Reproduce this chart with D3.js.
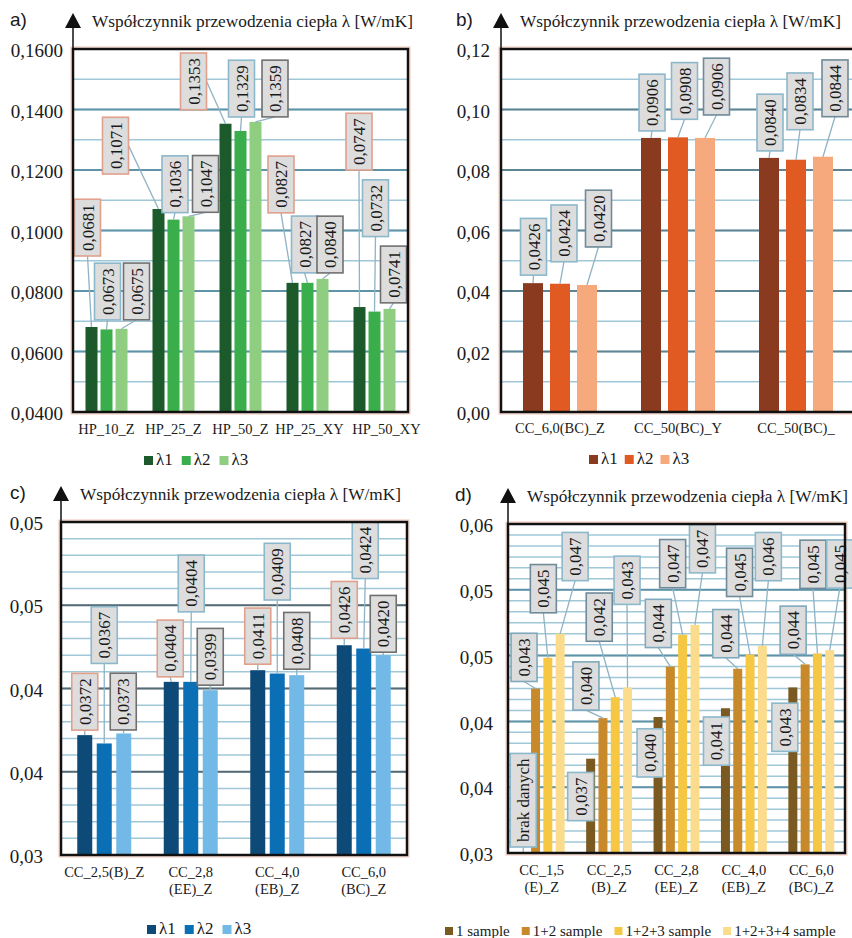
<!DOCTYPE html>
<html>
<head>
<meta charset="utf-8">
<script src="https://cdn.jsdelivr.net/npm/d3@7"></script>
<style>
  body { margin: 0; background: #fff; }
  svg text { font-family: "Liberation Serif", "Times New Roman", serif; fill: #1a1a1a; }
</style>
</head>
<body>
<svg id="chart" width="852" height="938"></svg>
<script>
// ---- data ----
const lambdaSeries = ['λ1', 'λ2', 'λ3'];

// a) HP samples
const hpCats = ['HP_10_Z', 'HP_25_Z', 'HP_50_Z', 'HP_25_XY', 'HP_50_XY'];
const hpL1 = [0.0681, 0.1071, 0.1353, 0.0827, 0.0747];
const hpL2 = [0.0673, 0.1036, 0.1329, 0.0827, 0.0732];
const hpL3 = [0.0675, 0.1047, 0.1359, 0.0840, 0.0741];
const hpTicks = [0.04, 0.06, 0.08, 0.10, 0.12, 0.14, 0.16];
const hpTickLabels = ['0,0400', '0,0600', '0,0800', '0,1000', '0,1200', '0,1400', '0,1600'];

// b) CC BC samples
const bcCats = ['CC_6,0(BC)_Z', 'CC_50(BC)_Y', 'CC_50(BC)_'];
const bcL1 = [0.0426, 0.0906, 0.0840];
const bcL2 = [0.0424, 0.0908, 0.0834];
const bcL3 = [0.0420, 0.0906, 0.0844];
const bcTicks = [0, 0.02, 0.04, 0.06, 0.08, 0.10, 0.12];
const bcTickLabels = ['0,00', '0,02', '0,04', '0,06', '0,08', '0,10', '0,12'];

// c) CC Z samples
const ccCats = ['CC_2,5(B)_Z', 'CC_2,8\n(EE)_Z', 'CC_4,0\n(EB)_Z', 'CC_6,0\n(BC)_Z'];
const ccL1 = [0.0372, 0.0404, 0.0411, 0.0426];
const ccL2 = [0.0367, 0.0404, 0.0409, 0.0424];
const ccL3 = [0.0373, 0.0399, 0.0408, 0.0420];
const ccTicks = [0.03, 0.035, 0.04, 0.045, 0.05];
const ccTickLabels = ['0,03', '0,04', '0,04', '0,05', '0,05'];

// d) cumulative samples
const smpSeries = ['1 sample', '1+2 sample', '1+2+3 sample', '1+2+3+4 sample'];
const smpCats = ['CC_1,5\n(E)_Z', 'CC_2,5\n(B)_Z', 'CC_2,8\n(EE)_Z', 'CC_4,0\n(EB)_Z', 'CC_6,0\n(BC)_Z'];
const smp1 = [null, 0.0386, 0.0424, 0.0432, 0.0451];
const smp12 = [0.0450, 0.0423, 0.0470, 0.0468, 0.0472];
const smp123 = [0.0478, 0.0442, 0.0499, 0.0481, 0.0482];
const smp1234 = [0.0500, 0.0451, 0.0508, 0.0489, 0.0485];
const smpText1 = ['brak danych', '0,037', '0,040', '0,041', '0,043'];
const smpText12 = ['0,043', '0,040', '0,044', '0,044', '0,044'];
const smpText123 = ['0,045', '0,042', '0,047', '0,045', '0,045'];
const smpText1234 = ['0,047', '0,043', '0,047', '0,046', '0,045'];
const smpTicks = [0.03, 0.036, 0.042, 0.048, 0.054, 0.06];
const smpTickLabels = ['0,03', '0,04', '0,04', '0,05', '0,05', '0,06'];

const title = 'Współczynnik przewodzenia ciepła λ [W/mK]';

// label box placement: [dx from bar centre, gap above bar top] in px
const layoutA = [
  [[-4, 71], [-43, 35], [-32, 14], [-11.5, 70], [-0.5, 137]],
  [[1, 9.5], [1.5, 7], [1, 14], [-3, 10], [1, 75]],
  [[15, 9], [17, 4], [19.5, 5], [7.5, 6], [4, 6]]
];
const layoutB = [
  [[0.5, 8], [1, 7], [1, 7]],
  [[4, 22], [6.5, 18], [4, 30]],
  [[11.5, 38], [11.5, 23], [12, 40]]
];
const layoutC = [
  [[0, 5], [-1, 5], [0, 6], [0, 7]],
  [[0, 80], [0.5, 70], [0, 73.5], [1.5, 70]],
  [[-0.5, 3.5], [0, 5], [0, 6], [0, 3]]
];
const layoutD = [
  [[0, 6], [-10, -62], [-8, -60], [-9, -57], [-8, -64]],
  [[-11.5, 7], [-17, 8], [-12, 19], [-12, 11], [-12, 10]],
  [[-4.5, 45], [-16, 56], [-10, 47], [-10.5, 58], [-4.5, 65]],
  [[15, 53], [-0.5, 83], [7.5, 52], [6, 65], [10, 62]]
];

const fmt4 = v => d3.format('.4f')(v).replace('.', ',');

const svg = d3.select('#chart');

function drawPanel(cfg) {
  const g = svg.append('g');
  const y = d3.scaleLinear().domain(cfg.domain).range([cfg.bottom, cfg.top]);
  const x0 = d3.scaleBand().domain(cfg.cats).range([cfg.left, cfg.right]);
  const span = cfg.barW + cfg.barStep * (cfg.series.length - 1);
  const bw = x0.bandwidth();
  const x1 = d3.scaleBand().domain(cfg.series)
    .range([bw / 2 - span / 2, bw / 2 + span / 2])
    .paddingInner(1 - cfg.barW / cfg.barStep);

  // faint outline around the plot (scan tint)
  g.append('rect')
    .attr('x', cfg.left - 2).attr('y', cfg.top - 2)
    .attr('width', cfg.right - cfg.left + 4).attr('height', cfg.bottom - cfg.top + 4)
    .attr('fill', 'none').attr('stroke', '#f5cfc2').attr('stroke-width', 1.2);

  // minor grid
  const nMinor = Math.round((cfg.domain[1] - cfg.domain[0]) / cfg.minor);
  const minorVals = d3.range(nMinor + 1).map(i => cfg.domain[0] + i * cfg.minor);
  g.selectAll('line.minor').data(minorVals).join('line')
    .attr('class', 'minor')
    .attr('x1', cfg.left).attr('x2', cfg.right)
    .attr('y1', d => y(d)).attr('y2', d => y(d))
    .attr('stroke', '#9fc7d8').attr('stroke-width', 1.5);

  // major grid
  g.selectAll('line.major').data(cfg.ticks).join('line')
    .attr('class', 'major')
    .attr('x1', cfg.left).attr('x2', cfg.right)
    .attr('y1', d => y(d)).attr('y2', d => y(d))
    .attr('stroke', cfg.majorColor).attr('stroke-width', 2);

  // rows
  const rows = [];
  cfg.values.forEach((vals, si) => {
    vals.forEach((v, ci) => {
      rows.push({ cat: cfg.cats[ci], s: cfg.series[si], si, ci, v,
        text: cfg.texts ? cfg.texts[si][ci] : fmt4(v),
        lay: cfg.layout[si][ci] });
    });
  });

  // bars
  g.selectAll('rect.bar').data(rows.filter(r => r.v != null)).join('rect')
    .attr('class', 'bar')
    .attr('x', r => x0(r.cat) + x1(r.s))
    .attr('width', x1.bandwidth())
    .attr('y', r => y(r.v))
    .attr('height', r => cfg.bottom - y(r.v))
    .attr('fill', r => cfg.colors[r.si]);

  // labels
  const lg = g.append('g');
  rows.forEach(r => {
    const bx = x0(r.cat) + x1(r.s) + x1.bandwidth() / 2;
    const by = r.v == null ? cfg.bottom : y(r.v);
    const cx = bx + r.lay[0];
    const bottom = by - r.lay[1];
    const grp = lg.append('g');
    const line = grp.append('line');
    const box = grp.append('rect');
    const t = grp.append('text')
      .attr('font-size', 17)
      .attr('transform', `translate(${cx + 6},${bottom - 5}) rotate(-90)`)
      .text(r.text);
    const len = t.node().getComputedTextLength();
    const h = len + 10;
    box.attr('x', cx - 13).attr('y', bottom - h)
      .attr('width', 26).attr('height', h)
      .attr('fill', '#dddddd')
      .attr('stroke', cfg.boxStroke[r.si]).attr('stroke-width', 1.6);
    if (r.lay[1] > 2) {
      let sx = cx, sy = bottom;
      if (Math.abs(bx - cx) > h / 2) {
        sx = bx > cx ? cx + 13 : cx - 13;
        sy = bottom - h / 2;
      }
      line.attr('x1', sx).attr('y1', sy).attr('x2', bx).attr('y2', by)
        .attr('stroke', '#8fb3c4').attr('stroke-width', 1.3);
    } else {
      line.remove();
    }
  });

  // frame
  g.append('rect')
    .attr('x', cfg.left).attr('y', cfg.top)
    .attr('width', cfg.right - cfg.left).attr('height', cfg.bottom - cfg.top)
    .attr('fill', 'none').attr('stroke', '#111').attr('stroke-width', 2.5);

  // y axis labels
  const ax = g.append('g')
    .attr('transform', `translate(${cfg.left - cfg.tickPad},0)`)
    .call(d3.axisLeft(y).tickValues(cfg.ticks)
      .tickFormat((d, i) => cfg.tickLabels[i]).tickSize(0).tickPadding(0));
  ax.select('.domain').remove();
  ax.attr('font-family', null).attr('font-size', null);
  ax.selectAll('text').attr('font-size', 19).attr('dy', '0.4em').style('fill', '#1a1a1a');

  // arrow axis
  g.append('line')
    .attr('x1', cfg.left).attr('x2', cfg.left)
    .attr('y1', cfg.top - 22).attr('y2', cfg.top)
    .attr('stroke', '#111').attr('stroke-width', 1.5);
  g.append('path')
    .attr('d', `M${cfg.left},${cfg.top - 36} L${cfg.left + 8},${cfg.top - 21} L${cfg.left - 8},${cfg.top - 21} Z`)
    .attr('fill', '#111');

  // title and panel letter
  g.append('text')
    .attr('x', cfg.left + 19).attr('y', cfg.top - 22)
    .attr('font-size', 17.5)
    .attr('textLength', 321).attr('lengthAdjust', 'spacingAndGlyphs')
    .text(title);
  g.append('text')
    .attr('x', cfg.letterX).attr('y', cfg.top - 23)
    .attr('font-size', 19)
    .style('font-family', '"Liberation Sans", Arial, sans-serif')
    .text(cfg.letter);

  // category labels
  const catShift = cfg.catShift || [];
  g.selectAll('text.cat').data(cfg.cats).join('text')
    .attr('class', 'cat')
    .attr('font-size', 14.5)
    .attr('text-anchor', 'middle')
    .each(function (d, ci) {
      const el = d3.select(this);
      d.split('\n').forEach((s, i) => {
        el.append('tspan')
          .attr('x', x0(d) + bw / 2 + (catShift[ci] || 0))
          .attr('y', cfg.bottom + cfg.catDy + i * 16.5)
          .text(s);
      });
    });

  // legend
  let lx = cfg.legendX;
  cfg.series.forEach((s, i) => {
    g.append('rect')
      .attr('x', lx).attr('y', cfg.legendY - 9)
      .attr('width', cfg.legendSq).attr('height', cfg.legendSq)
      .attr('fill', cfg.colors[i]);
    const t = g.append('text')
      .attr('x', lx + cfg.legendSq + 3).attr('y', cfg.legendY)
      .attr('font-size', cfg.legendFont)
      .text(s);
    lx += cfg.legendSq + 3 + t.node().getComputedTextLength() + cfg.legendGap;
  });
}

drawPanel({
  letter: 'a)', letterX: 10,
  cats: hpCats, series: lambdaSeries, values: [hpL1, hpL2, hpL3], layout: layoutA,
  domain: [0.04, 0.16], ticks: hpTicks, tickLabels: hpTickLabels, minor: 0.01,
  left: 73, right: 408, top: 49, bottom: 412, tickPad: 10,
  barW: 12, barStep: 15,
  colors: ['#1d5a2b', '#3aae4a', '#8fcd80'],
  boxStroke: ['#e0a08c', '#8cb8cc', '#707070'],
  majorColor: '#5e93a8', catDy: 22, catShift: [0, 0, 0, 2, 12],
  legendX: 144, legendY: 465, legendSq: 9, legendFont: 17, legendGap: 9
});

drawPanel({
  letter: 'b)', letterX: 456,
  cats: bcCats, series: lambdaSeries, values: [bcL1, bcL2, bcL3], layout: layoutB,
  domain: [0, 0.12], ticks: bcTicks, tickLabels: bcTickLabels, minor: 0.01,
  left: 501, right: 855, top: 49, bottom: 412, tickPad: 11,
  barW: 20, barStep: 27,
  colors: ['#8a3a1f', '#e05a22', '#f6a97c'],
  boxStroke: ['#8cb8cc', '#8cb8cc', '#6f8a99'],
  majorColor: '#5f8594', catDy: 21,
  legendX: 589, legendY: 464, legendSq: 9, legendFont: 17, legendGap: 7
});

drawPanel({
  letter: 'c)', letterX: 10,
  cats: ccCats, series: lambdaSeries, values: [ccL1, ccL2, ccL3], layout: layoutC,
  domain: [0.03, 0.05], ticks: ccTicks, tickLabels: ccTickLabels, minor: 0.001,
  left: 61, right: 407, top: 522, bottom: 855, tickPad: 18,
  barW: 15, barStep: 19.5,
  colors: ['#0e4a78', '#0b6fb6', '#72b9e8'],
  boxStroke: ['#e0a08c', '#8cb8cc', '#707070'],
  majorColor: '#566b74', catDy: 22,
  legendX: 147, legendY: 934, legendSq: 9, legendFont: 17, legendGap: 9
});

drawPanel({
  letter: 'd)', letterX: 455,
  cats: smpCats, series: smpSeries, values: [smp1, smp12, smp123, smp1234],
  texts: [smpText1, smpText12, smpText123, smpText1234], layout: layoutD,
  domain: [0.03, 0.06], ticks: smpTicks, tickLabels: smpTickLabels, minor: 0.001,
  left: 508, right: 845, top: 524, bottom: 853, tickPad: 15,
  barW: 9, barStep: 12.3,
  colors: ['#7b5a22', '#c8892b', '#f6c743', '#fbdc8c'],
  boxStroke: ['#8cb8cc', '#7fa9bd', '#6f8a99', '#8cb8cc'],
  majorColor: '#5e93a8', catDy: 22,
  legendX: 445, legendY: 936, legendSq: 8, legendFont: 15, legendGap: 12
});
</script>
</body>
</html>
